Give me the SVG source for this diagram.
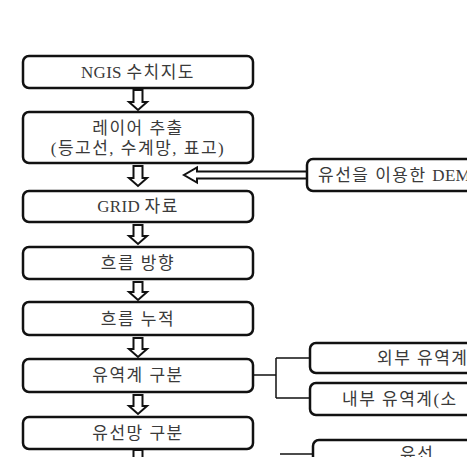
<svg xmlns="http://www.w3.org/2000/svg" width="467" height="457" viewBox="0 0 467 457">
<style>
.box{fill:#fff;stroke:#111;stroke-width:2.5}
.t{font-family:"Liberation Serif","Noto Sans CJK KR",serif;font-size:17px;fill:#3a3a3a;text-anchor:middle;letter-spacing:1.5px}
.ts{font-family:"Liberation Serif","Noto Sans CJK KR",serif;font-size:17px;fill:#3a3a3a;letter-spacing:1.5px}
.lat{letter-spacing:0.3px}
.arr{fill:#fff;stroke:#111;stroke-width:2;stroke-linejoin:miter}
.ln{fill:none;stroke:#111;stroke-width:1.5}
</style>
<rect width="467" height="457" fill="#fff"/>
<g id="connectors">
<path class="arr" d="M133.5,90 H142.5 V102 H147 L138,110 L129,102 H133.5 Z"/>
<path class="arr" d="M133.5,166 H142.5 V178 H147 L138,186 L129,178 H133.5 Z"/>
<path class="arr" d="M133.5,225 H142.5 V236 H147 L138,244 L129,236 H133.5 Z"/>
<path class="arr" d="M133.5,282 H142.5 V292 H147 L138,300 L129,292 H133.5 Z"/>
<path class="arr" d="M133.5,338 H142.5 V349 H147 L138,357 L129,349 H133.5 Z"/>
<path class="arr" d="M133.5,395 H142.5 V406 H147 L138,414 L129,406 H133.5 Z"/>
<path class="arr" d="M133.5,450 H142.5 V462 H147 L138,470 L129,462 H133.5 Z"/>
<path class="arr" d="M308,171.5 H197 V167.5 L184,175 L197,182.5 V178.5 H308 Z"/>
<path class="ln" d="M254,375 H276 M276,358 V398 M276,358 H311 M276,398 H311"/>
<path class="ln" d="M280,454 H313"/>
</g>
<g id="n1"><rect class="box" x="23" y="56" width="230" height="32" rx="6"/><text class="t" x="138" y="78"><tspan class="lat">NGIS </tspan>수치지도</text></g>
<g id="n2"><rect class="box" x="23" y="112" width="230" height="51" rx="6"/><text class="t" x="138" y="134">레이어 추출</text><text class="t" x="138" y="154">(등고선, 수계망, 표고)</text></g>
<g id="n3"><rect class="box" x="23" y="191" width="230" height="31" rx="6"/><text class="t" x="138" y="212"><tspan class="lat">GRID </tspan>자료</text></g>
<g id="n4"><rect class="box" x="23" y="247" width="230" height="32" rx="6"/><text class="t" x="138" y="269">흐름 방향</text></g>
<g id="n5"><rect class="box" x="23" y="302" width="230" height="33" rx="6"/><text class="t" x="138" y="325">흐름 누적</text></g>
<g id="n6"><rect class="box" x="23" y="359" width="230" height="33" rx="6"/><text class="t" x="138" y="381">유역계 구분</text></g>
<g id="n7"><rect class="box" x="23" y="417" width="230" height="32" rx="6"/><text class="t" x="138" y="439">유선망 구분</text></g>
<g id="n8"><rect class="box" x="307" y="159" width="180" height="32" rx="6"/><text class="ts" x="318" y="181">유선을 이용한 <tspan class="lat">DEM</tspan></text></g>
<g id="n9"><rect class="box" x="310" y="343" width="180" height="30" rx="6"/><text class="ts" x="377" y="364">외부 유역계</text></g>
<g id="n10"><rect class="box" x="310" y="383" width="180" height="32" rx="6"/><text class="ts" x="342" y="405">내부 유역계(소</text></g>
<g id="n11"><rect class="box" x="313" y="440" width="180" height="40" rx="6"/><text class="ts" x="400" y="460">유선</text></g>
</svg>
